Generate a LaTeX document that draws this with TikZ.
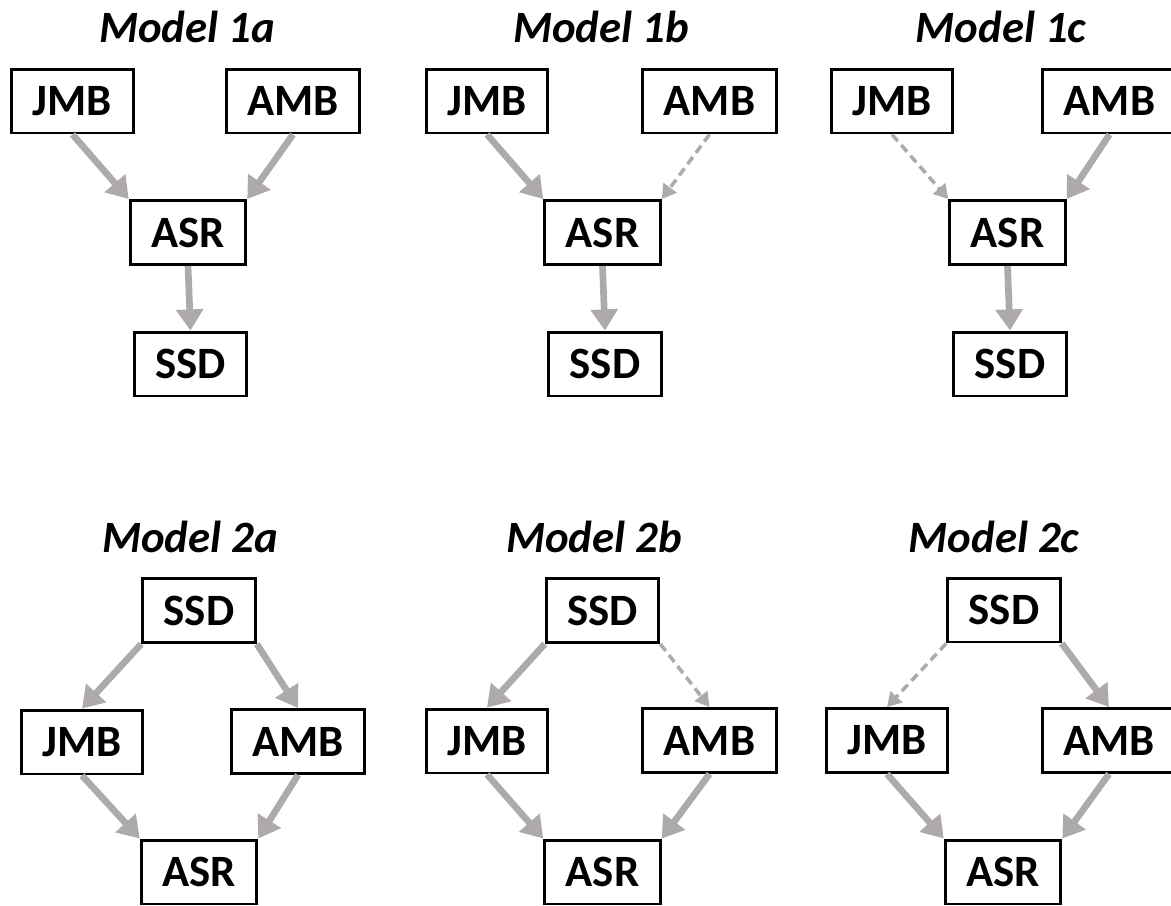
\documentclass[tikz,border=0pt]{standalone}
\usepackage{fontspec}
\setmainfont{Carlito}
\usepackage{tikz}
\usetikzlibrary{arrows.meta}
\definecolor{arrgray}{HTML}{AEAAAA}

\begin{document}
\begin{tikzpicture}[
  x=0.02cm, y=-0.02cm,
  box/.style={rectangle, draw=black, line width=1.7pt, fill=white,
              inner xsep=0.42cm, inner ysep=0pt, minimum height=1.28cm,
              font=\fontsize{25.5}{29}\selectfont\bfseries},
  ttl/.style={font=\fontsize{25.5}{29}\selectfont\bfseries\itshape},
  arr/.style={-{Triangle[width=15pt,length=12pt]}, line width=3.8pt, draw=arrgray},
  darr/.style={-{Triangle[width=9pt,length=8pt]}, line width=2pt, draw=arrgray,
               dash pattern=on 5pt off 3pt},
]
  \useasboundingbox (0,0) rectangle (1171,906);

  % Model 1a
  \node[ttl] (t1a) at (187,27) {Model 1a};
  \node[box] (jmb1a) at (72.5,101) {JMB};
  \node[box] (amb1a) at (293,101) {AMB};
  \node[box] (asr1a) at (188,232.5) {ASR};
  \node[box] (ssd1a) at (190.5,364) {SSD};
  \draw[arr] (jmb1a.south) -- (asr1a.north west);
  \draw[arr] (amb1a.south) -- (asr1a.north east);
  \draw[arr] (asr1a.south) -- (ssd1a.north);

  % Model 1b
  \node[ttl] (t1b) at (601,27) {Model 1b};
  \node[box] (jmb1b) at (487,101) {JMB};
  \node[box] (amb1b) at (709.5,101) {AMB};
  \node[box] (asr1b) at (602.5,232.5) {ASR};
  \node[box] (ssd1b) at (605,364) {SSD};
  \draw[arr] (jmb1b.south) -- (asr1b.north west);
  \draw[darr] (amb1b.south) -- (asr1b.north east);
  \draw[arr] (asr1b.south) -- (ssd1b.north);

  % Model 1c
  \node[ttl] (t1c) at (1001,27) {Model 1c};
  \node[box] (jmb1c) at (892,101) {JMB};
  \node[box] (amb1c) at (1109.5,101) {AMB};
  \node[box] (asr1c) at (1007.5,232.5) {ASR};
  \node[box] (ssd1c) at (1010,364) {SSD};
  \draw[darr] (jmb1c.south) -- (asr1c.north west);
  \draw[arr] (amb1c.south) -- (asr1c.north east);
  \draw[arr] (asr1c.south) -- (ssd1c.north);

  % Model 2a
  \node[ttl] (t2a) at (190,537) {Model 2a};
  \node[box] (ssd2a) at (199,610.5) {SSD};
  \node[box] (jmb2a) at (82,742) {JMB};
  \node[box] (amb2a) at (298,741.5) {AMB};
  \node[box] (asr2a) at (199,872) {ASR};
  \draw[arr] (ssd2a.south west) -- (jmb2a.north);
  \draw[arr] (ssd2a.south east) -- (amb2a.north);
  \draw[arr] (jmb2a.south) -- (asr2a.north west);
  \draw[arr] (amb2a.south) -- (asr2a.north east);

  % Model 2b
  \node[ttl] (t2b) at (594,537) {Model 2b};
  \node[box] (ssd2b) at (602.5,610.5) {SSD};
  \node[box] (jmb2b) at (487,741) {JMB};
  \node[box] (amb2b) at (709.5,740.5) {AMB};
  \node[box] (asr2b) at (602.5,872) {ASR};
  \draw[arr] (ssd2b.south west) -- (jmb2b.north);
  \draw[darr] (ssd2b.south east) -- (amb2b.north);
  \draw[arr] (jmb2b.south) -- (asr2b.north west);
  \draw[arr] (amb2b.south) -- (asr2b.north east);

  % Model 2c
  \node[ttl] (t2c) at (994,537) {Model 2c};
  \node[box] (ssd2c) at (1004,610) {SSD};
  \node[box] (jmb2c) at (887,740.5) {JMB};
  \node[box] (amb2c) at (1109,740.5) {AMB};
  \node[box] (asr2c) at (1003,872) {ASR};
  \draw[darr] (ssd2c.south west) -- (jmb2c.north);
  \draw[arr] (ssd2c.south east) -- (amb2c.north);
  \draw[arr] (jmb2c.south) -- (asr2c.north west);
  \draw[arr] (amb2c.south) -- (asr2c.north east);
\end{tikzpicture}
\end{document}
